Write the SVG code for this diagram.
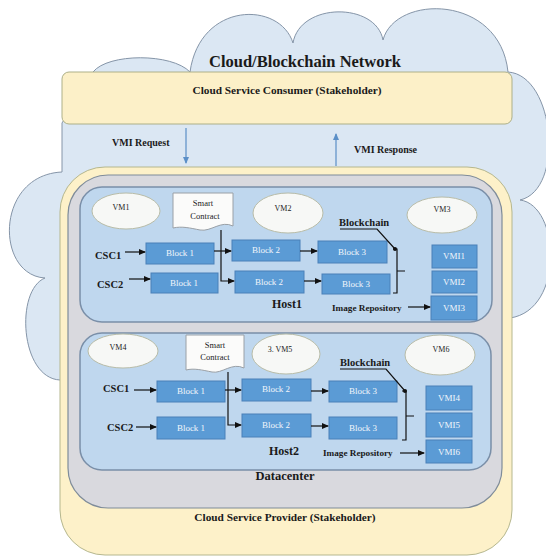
<svg xmlns="http://www.w3.org/2000/svg" width="546" height="557" viewBox="0 0 546 557">
<defs>
<marker id="ah" markerWidth="7" markerHeight="6" refX="6" refY="3" orient="auto" markerUnits="userSpaceOnUse"><path d="M0,0 L7,3 L0,6 Z" fill="#111"/></marker>
<marker id="ahb" markerWidth="7" markerHeight="6" refX="6" refY="3" orient="auto" markerUnits="userSpaceOnUse"><path d="M0,0 L7,3 L0,6 Z" fill="#5b8fc7"/></marker>
<style>
.t{font-family:"Liberation Serif","Times New Roman",serif;fill:#1a1a1a}
.b{font-weight:bold}
.blk{fill:#5b9bd5;stroke:#4a80b8;stroke-width:1}
.bt{font-family:"Liberation Serif","Times New Roman",serif;font-size:9px;fill:#f2f6fb;text-anchor:middle}
.vm{fill:#f7f8f6;stroke:#b8bca8;stroke-width:1}
.vt{font-family:"Liberation Serif","Times New Roman",serif;font-size:8px;fill:#222;text-anchor:middle}
.host{fill:#bfd7ee;stroke:#7a8fa8;stroke-width:1.5}
.sc{fill:#fbfbfa;stroke:#9aa0a6;stroke-width:1}
.ln{fill:none;stroke:#111;stroke-width:1.2}
</style>
</defs>
<rect width="546" height="557" fill="#ffffff"/>
<g id="cloud">
<path d="M93 72 C108 53 172 53 190 72 C200 1 280 1 293 43 C300 2 376 2 383 40 C395 -6 500 -6 508 72 C555 75 565 190 520 200 C560 205 565 310 510 318 L470 330 L90 380 L60 380 C20 378 15 290 45 278 C-5 275 -5 175 62 172 L62 123 Z" fill="#dbe7f3" stroke="#8595a8" stroke-width="1"/>
<text class="t b" x="305" y="67" font-size="16.5" text-anchor="middle">Cloud/Blockchain Network</text>
</g>
<g id="consumer">
<rect x="62" y="72" width="450" height="52" rx="7" fill="#fcf0c8" stroke="#adb088" stroke-width="1"/>
<text class="t b" x="287" y="94" font-size="11.3" text-anchor="middle">Cloud Service Consumer (Stakeholder)</text>
</g>
<g id="provider">
<rect x="60" y="167" width="452" height="388" rx="45" fill="#fdf1c9" stroke="#b5b78e" stroke-width="1"/>
<text class="t b" x="285" y="521" font-size="11.3" text-anchor="middle">Cloud Service Provider (Stakeholder)</text>
</g>
<g id="datacenter">
<rect x="68" y="175" width="434" height="333" rx="40" fill="#d9d9de" stroke="#7f8c9a" stroke-width="1.2"/>
<text class="t b" x="285" y="480" font-size="12.5" text-anchor="middle">Datacenter</text>
</g>
<g id="host1">
<rect class="host" x="80" y="187" width="412" height="135" rx="22"/>
<text class="t b" x="272" y="308" font-size="12">Host1</text>
<ellipse class="vm" cx="126" cy="211" rx="34" ry="18"/><text class="vt" x="121" y="210">VM1</text>
<ellipse class="vm" cx="288" cy="213" rx="35" ry="20"/><text class="vt" x="283" y="211">VM2</text>
<ellipse class="vm" cx="442" cy="215" rx="35" ry="18"/><text class="vt" x="442" y="212">VM3</text>
<path class="sc" d="M173 193 H233 V226 C221 220 211 232 200 230 C190 228 182 226 173 228 Z"/>
<text class="t" x="203" y="206" font-size="8.5" text-anchor="middle">Smart</text>
<text class="t" x="205" y="219" font-size="8.5" text-anchor="middle">Contract</text>
<text class="t b" x="95" y="259" font-size="10.5">CSC1</text>
<text class="t b" x="97" y="288" font-size="10.5">CSC2</text>
<rect class="blk" x="146" y="243" width="68" height="21"/><text class="bt" x="180" y="256">Block 1</text>
<rect class="blk" x="151" y="273" width="67" height="20"/><text class="bt" x="184" y="286">Block 1</text>
<rect class="blk" x="232" y="240" width="68" height="21"/><text class="bt" x="266" y="253">Block 2</text>
<rect class="blk" x="235" y="271" width="69" height="22"/><text class="bt" x="269" y="285">Block 2</text>
<rect class="blk" x="318" y="241" width="69" height="22"/><text class="bt" x="352" y="255">Block 3</text>
<rect class="blk" x="322" y="274" width="68" height="20"/><text class="bt" x="356" y="287">Block 3</text>
<text class="t b" x="339" y="226" font-size="10.5">Blockchain</text>
<text class="t b" x="332" y="311" font-size="9.2">Image Repository</text>
<rect class="blk" x="432" y="245" width="45" height="23"/><text class="bt" x="454" y="259">VMI1</text>
<rect class="blk" x="432" y="271" width="45" height="22"/><text class="bt" x="454" y="285">VMI2</text>
<rect class="blk" x="431" y="296" width="46" height="24"/><text class="bt" x="454" y="311">VMI3</text>
</g>
<g id="host2">
<rect class="host" x="80" y="333" width="411" height="137" rx="22"/>
<text class="t b" x="269" y="455" font-size="12">Host2</text>
<ellipse class="vm" cx="123" cy="351" rx="35" ry="17"/><text class="vt" x="118" y="350">VM4</text>
<ellipse class="vm" cx="286" cy="354" rx="34" ry="20"/><text class="vt" x="280" y="352">3. VM5</text>
<ellipse class="vm" cx="440" cy="355" rx="35" ry="20"/><text class="vt" x="441" y="352">VM6</text>
<path class="sc" d="M186 335 H244 V368 C232 362 222 374 212 372 C202 370 194 368 186 370 Z"/>
<text class="t" x="215" y="348" font-size="8.5" text-anchor="middle">Smart</text>
<text class="t" x="215" y="360" font-size="8.5" text-anchor="middle">Contract</text>
<text class="t b" x="103" y="392" font-size="10.5">CSC1</text>
<text class="t b" x="107" y="431" font-size="10.5">CSC2</text>
<rect class="blk" x="157" y="381" width="68" height="21"/><text class="bt" x="191" y="394">Block 1</text>
<rect class="blk" x="157" y="417" width="68" height="22"/><text class="bt" x="191" y="431">Block 1</text>
<rect class="blk" x="242" y="379" width="69" height="22"/><text class="bt" x="276" y="392">Block 2</text>
<rect class="blk" x="242" y="414" width="69" height="23"/><text class="bt" x="276" y="428">Block 2</text>
<rect class="blk" x="329" y="381" width="68" height="21"/><text class="bt" x="363" y="394">Block 3</text>
<rect class="blk" x="329" y="417" width="68" height="22"/><text class="bt" x="363" y="431">Block 3</text>
<text class="t b" x="340" y="366" font-size="10.5">Blockchain</text>
<text class="t b" x="323" y="456" font-size="9.2">Image Repository</text>
<rect class="blk" x="426" y="386" width="46" height="24"/><text class="bt" x="449" y="401">VMI4</text>
<rect class="blk" x="426" y="413" width="46" height="24"/><text class="bt" x="449" y="428">VMI5</text>
<rect class="blk" x="426" y="440" width="46" height="23"/><text class="bt" x="449" y="455">VMI6</text>
</g>
<g id="flow">
<text class="t b" x="112" y="146" font-size="10">VMI Request</text>
<text class="t b" x="354" y="153" font-size="10">VMI Response</text>
<path d="M186 128 V163" fill="none" stroke="#5b8fc7" stroke-width="1.2" marker-end="url(#ahb)"/>
<path d="M336 166 V134" fill="none" stroke="#5b8fc7" stroke-width="1.2" marker-end="url(#ahb)"/>
</g>
<g id="connectors">
<path class="ln" d="M125 252 H145" marker-end="url(#ah)"/>
<path class="ln" d="M129 279 H150" marker-end="url(#ah)"/>
<path class="ln" d="M214 251 H231" marker-end="url(#ah)"/>
<path class="ln" d="M221 230 V281 H234" marker-end="url(#ah)"/>
<path class="ln" d="M300 251 H317" marker-end="url(#ah)"/>
<path class="ln" d="M304 281 H321" marker-end="url(#ah)"/>
<path class="ln" d="M393 249 H397 V293 H393 M397 271 H405"/>
<path class="ln" d="M340 229 H377 L395 249"/>
<circle cx="395" cy="249" r="2" fill="#111"/>
<path class="ln" d="M408 307 H430" marker-end="url(#ah)"/>
<path class="ln" d="M134 390 H156" marker-end="url(#ah)"/>
<path class="ln" d="M136 427 H156" marker-end="url(#ah)"/>
<path class="ln" d="M225 390 H241" marker-end="url(#ah)"/>
<path class="ln" d="M228 372 V425 H241" marker-end="url(#ah)"/>
<path class="ln" d="M311 391 H328" marker-end="url(#ah)"/>
<path class="ln" d="M311 426 H328" marker-end="url(#ah)"/>
<path class="ln" d="M402 391 H406 V440 H402 M406 416 H414"/>
<path class="ln" d="M340 369 H386 L405 391"/>
<circle cx="405" cy="391" r="2" fill="#111"/>
<path class="ln" d="M400 453 H424" marker-end="url(#ah)"/>
</g>
</svg>
